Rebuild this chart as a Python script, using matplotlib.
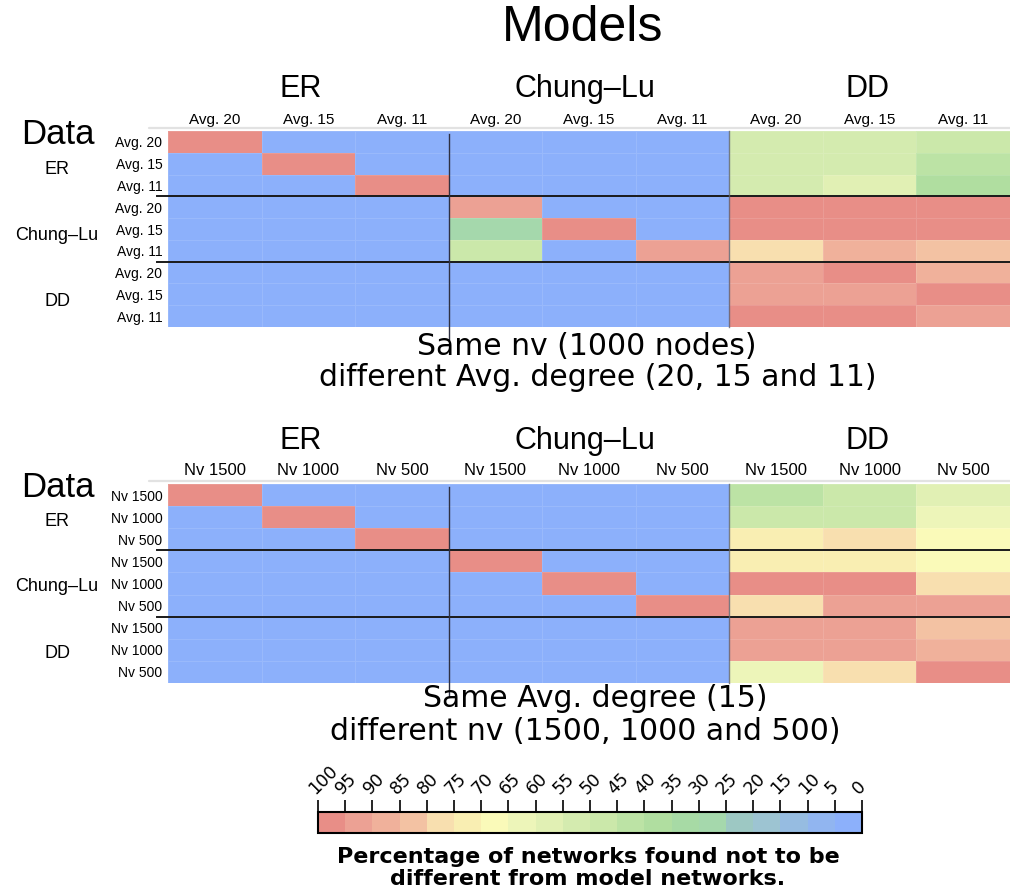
import numpy as np
import matplotlib
matplotlib.use("Agg")
import matplotlib.pyplot as plt
from matplotlib.colors import ListedColormap, BoundaryNorm
from matplotlib.cm import ScalarMappable

# ---------------------------------------------------------------- data
groups = ["ER", "Chung\u2013Lu", "DD"]
degree_labels = ["Avg. 20", "Avg. 15", "Avg. 11"]
size_labels = ["Nv 1500", "Nv 1000", "Nv 500"]

# Percentage of data networks (rows) found not to be different from
# networks generated by each model (columns).  Same nv, varying avg. degree.
er_deg = [
    [98, 0, 0, 0, 0, 0, 53, 53, 49],
    [0, 98, 0, 0, 0, 0, 53, 53, 43],
    [0, 0, 98, 0, 0, 0, 53, 57, 37],
]
cl_deg = [
    [0, 0, 0, 93, 0, 0, 98, 98, 98],
    [0, 0, 0, 28, 98, 0, 98, 98, 98],
    [0, 0, 0, 48, 0, 93, 78, 88, 83],
]
dd_deg = [
    [0, 0, 0, 0, 0, 0, 93, 98, 88],
    [0, 0, 0, 0, 0, 0, 93, 93, 98],
    [0, 0, 0, 0, 0, 0, 98, 98, 93],
]

# Same avg. degree, varying nv.
er_size = [
    [98, 0, 0, 0, 0, 0, 42, 48, 57],
    [0, 98, 0, 0, 0, 0, 48, 48, 62],
    [0, 0, 98, 0, 0, 0, 72, 78, 67],
]
cl_size = [
    [0, 0, 0, 98, 0, 0, 72, 72, 67],
    [0, 0, 0, 0, 98, 0, 98, 98, 78],
    [0, 0, 0, 0, 0, 98, 78, 93, 93],
]
dd_size = [
    [0, 0, 0, 0, 0, 0, 93, 93, 83],
    [0, 0, 0, 0, 0, 0, 93, 93, 88],
    [0, 0, 0, 0, 0, 0, 62, 78, 98],
]

cbar_ticks = list(range(0, 101, 5))

# ---------------------------------------------------------------- colours
bin_colors = [
    (140, 176, 251), (145, 181, 240), (150, 188, 225), (157, 196, 210),
    (157, 200, 195), (165, 216, 172), (167, 218, 165), (176, 222, 160),
    (188, 227, 165), (203, 232, 170), (212, 235, 175), (225, 240, 180),
    (237, 245, 185), (250, 250, 185), (249, 238, 178), (248, 223, 175),
    (243, 194, 163), (240, 177, 155), (236, 161, 148), (232, 142, 135),
]
cmap = ListedColormap([tuple(c / 255 for c in rgb) for rgb in bin_colors])
norm = BoundaryNorm(cbar_ticks, cmap.N)

W, H = 1010, 888
fig = plt.figure(figsize=(W / 100, H / 100), dpi=100)
SANS = "Liberation Sans"
WIDE = "DejaVu Sans"


def fx(x):
    return x / W


def fy(y):
    return 1 - y / H


def panel(top, bottom, values, labels, col_size, col_pad, head_y, data_y,
          group_ys, sub1, sub2):
    ax = fig.add_axes([fx(168), fy(bottom), 1 - fx(168), (bottom - top) / H])
    ax.pcolormesh(np.array(values), cmap=cmap, norm=norm,
                  edgecolors=(1, 1, 1, 0.12), linewidth=0.6)
    ax.set_xlim(0, 9)
    ax.set_ylim(9, 0)
    for s in ax.spines.values():
        s.set_visible(False)
    ax.xaxis.tick_top()
    ax.set_xticks(np.arange(9) + 0.5)
    ax.set_xticklabels(labels * 3, fontsize=col_size, family=SANS)
    ax.set_yticks(np.arange(9) + 0.5)
    ax.set_yticklabels(labels * 3, fontsize=10, family=SANS)
    ax.tick_params(axis="x", length=0, pad=col_pad)
    ax.tick_params(axis="y", length=0, pad=4)

    # thin light rule above the matrix
    ax.plot([-0.2, 9], [-0.14, -0.14], color="#e2e2e2", lw=1.6,
            solid_capstyle="round", clip_on=False)
    # block separators
    for r in (3, 6):
        ax.plot([-0.12, 9], [r, r], color="#1a1a1a", lw=1.4, clip_on=False)
    ax.plot([3, 3], [0.15, 9.6], color="#2e3042", lw=1.0, clip_on=False)
    ax.plot([6, 6], [0, 9], color="#5a5f72", lw=1.0, alpha=0.8, clip_on=False)

    # group headings (models) and data labels
    for name, x in zip(groups, (301, 585, 868)):
        fig.text(fx(x), fy(head_y), name, fontsize=22, family=SANS,
                 ha="center", va="center")
    fig.text(fx(58), fy(data_y), "Data", fontsize=25, family=SANS,
             ha="center", va="center")
    for name, y in zip(groups, group_ys):
        fig.text(fx(57), fy(y), name, fontsize=13, family=SANS,
                 ha="center", va="center")

    fig.text(fx(sub1[0]), fy(sub1[1]), sub1[2], fontsize=21.5, family=WIDE,
             ha="center", va="baseline")
    fig.text(fx(sub2[0]), fy(sub2[1]), sub2[2], fontsize=21.5, family=WIDE,
             ha="center", va="baseline")
    return ax


fig.text(fx(583), fy(28), "Models", fontsize=36, family=SANS,
         ha="center", va="center")

panel(131, 327, er_deg + cl_deg + dd_deg, degree_labels, 11, 3,
      89, 135, (170, 236, 301),
      (587, 355, "Same nv (1000 nodes)"),
      (598, 386, "different Avg. degree (20, 15 and 11)"))

panel(484, 683, er_size + cl_size + dd_size, size_labels, 12, 4,
      441, 487, (522, 586, 653),
      (595, 707, "Same Avg. degree (15)"),
      (585, 740, "different nv (1500, 1000 and 500)"))

# ---------------------------------------------------------------- colour bar
cax = fig.add_axes([fx(318), fy(833), fx(862) - fx(318), (833 - 812) / H])
cb = fig.colorbar(ScalarMappable(norm=norm, cmap=cmap), cax=cax,
                  orientation="horizontal", ticks=cbar_ticks)
cax.invert_xaxis()
cax.xaxis.set_ticks_position("top")
cax.tick_params(axis="x", length=9, width=1.2, pad=1, labelsize=12.5)
cb.outline.set_linewidth(1.5)
for lbl in cax.get_xticklabels():
    lbl.set_rotation(45)
    lbl.set_ha("left")
    lbl.set_va("bottom")
    lbl.set_rotation_mode("anchor")
    lbl.set_family(WIDE)

fig.text(fx(588), fy(863), "Percentage of networks found not to be",
         fontsize=16, fontweight="bold", family=WIDE, ha="center",
         va="baseline")
fig.text(fx(588), fy(885), "different from model networks.",
         fontsize=16, fontweight="bold", family=WIDE, ha="center",
         va="baseline")

fig.savefig("out.png", dpi=100)
